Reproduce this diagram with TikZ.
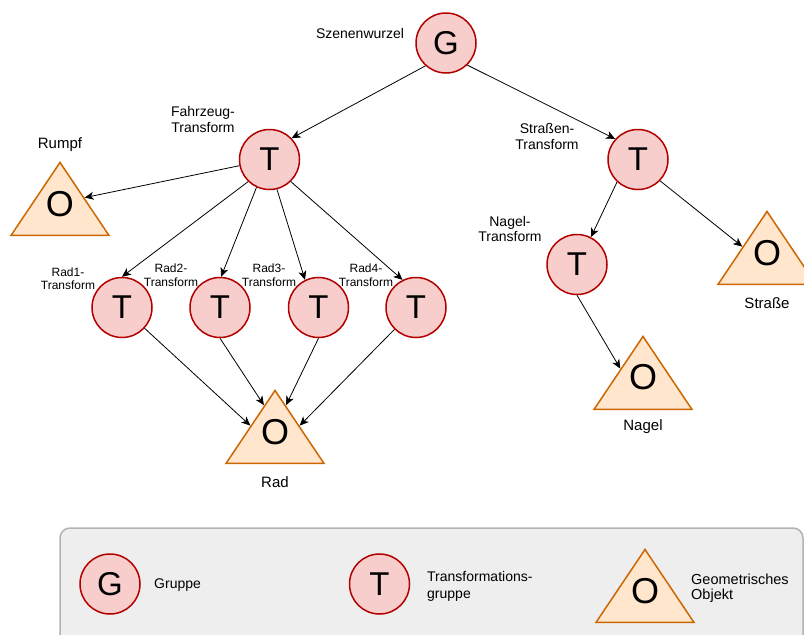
\documentclass[tikz,border=0pt]{standalone}
\usepackage{fontspec}
\setmainfont{Liberation Sans}
\usetikzlibrary{shapes.geometric,arrows.meta,calc}

\definecolor{grpfill}{HTML}{F8CECC}
\definecolor{grpline}{HTML}{B20000}
\definecolor{objfill}{HTML}{FFE6CC}
\definecolor{objline}{HTML}{CC6600}
\definecolor{legfill}{HTML}{EEEEEE}
\definecolor{legline}{HTML}{B3B3B3}

\tikzset{
  grp/.style={circle, draw=grpline, fill=grpfill, line width=1.5pt,
    minimum size=60pt, inner sep=0pt, font=\fontsize{33}{33}\selectfont},
  obj/.style={isosceles triangle, isosceles triangle stretches,
    shape border rotate=90, draw=objline, fill=objfill, line width=1.5pt,
    minimum width=98pt, minimum height=73pt, inner sep=0pt, anchor=apex},
  objletter/.style={font=\fontsize{36}{36}\selectfont, inner sep=0pt},
  lbl/.style={font=\fontsize{14}{15.5}\selectfont, align=center, inner sep=0pt},
  namelbl/.style={font=\fontsize{15}{16}\selectfont, inner sep=0pt},
  smalllbl/.style={font=\fontsize{12}{13.5}\selectfont, align=center, inner sep=0pt},
  leglbl/.style={font=\fontsize{14}{17}\selectfont, align=left, anchor=west, inner sep=0pt},
  edge/.style={line width=0.8pt, -{Stealth[length=9pt,width=8pt,inset=2.5pt]}},
}

\begin{document}
\begin{tikzpicture}[x=1pt,y=-1pt]
  \useasboundingbox (0,0) rectangle (804,635);
  \clip (0,0) rectangle (804,635);

  % group and transform nodes
  \node[grp] (root) at (446,43) {G};
  \node[grp] (car) at (269.5,159.5) {T};
  \node[grp] (road) at (638,159.5) {T};
  \node[grp] (nail) at (577,264.5) {T};
  \node[grp] (w1) at (122,307.5) {T};
  \node[grp] (w2) at (220,307.5) {T};
  \node[grp] (w3) at (318.5,307.5) {T};
  \node[grp] (w4) at (416,307.5) {T};

  % geometry objects
  \node[obj] (hull) at (60,160.5) {};
  \node[objletter] (hullO) at ($(hull.apex)+(0,44)$) {O};
  \node[obj] (wheel) at (275,388.5) {};
  \node[objletter] (wheelO) at ($(wheel.apex)+(0,44)$) {O};
  \node[obj] (nailobj) at (643,334.5) {};
  \node[objletter] (nailobjO) at ($(nailobj.apex)+(0,43)$) {O};
  \node[obj] (street) at (767,209.5) {};
  \node[objletter] (streetO) at ($(street.apex)+(0,44)$) {O};

  % labels
  \node[lbl] (lroot) at (360,33) {Szenenwurzel};
  \node[lbl] (lcar) at (203,119.5) {Fahrzeug-\\Transform};
  \node[lbl] (lroad) at (547,136.5) {Straßen-\\Transform};
  \node[lbl] (lnail) at (510,229) {Nagel-\\Transform};
  \node[namelbl] (lhull) at (60,145) {Rumpf};
  \node[namelbl] (lstreet) at (767,303) {Straße};
  \node[namelbl] (lnailobj) at (643,427) {Nagel};
  \node[namelbl] (lwheel) at (275,482) {Rad};
  \node[smalllbl] (lw1) at (68,278.5) {Rad1-\\Transform};
  \node[smalllbl] (lw2) at (171,275) {Rad2-\\Transform};
  \node[smalllbl] (lw3) at (269,275) {Rad3-\\Transform};
  \node[smalllbl] (lw4) at (366,275) {Rad4-\\Transform};

  % connectors
  \draw[edge] (root.-132) -- (car.44);
  \draw[edge] (root.-46) -- (road.138);
  \draw[edge] (car) -- ($(hull.apex)!0.49!(hull.right corner)$);
  \draw[edge] (car.-134) -- (w1.north);
  \draw[edge] (car.-115) -- (w2.88);
  \draw[edge] (car.-76) -- (w3.116);
  \draw[edge] (car.-46) -- (w4.116);
  \draw[edge] (w1) -- ($(wheel.apex)!0.49!(wheel.left corner)$);
  \draw[edge] (w2.south) -- ($(wheel.apex)!0.22!(wheel.left corner)$);
  \draw[edge] (w3.south) -- ($(wheel.apex)!0.22!(wheel.right corner)$);
  \draw[edge] (w4) -- ($(wheel.apex)!0.49!(wheel.right corner)$);
  \draw[edge] (road.-133) -- (nail.63);
  \draw[edge] (road.-44) -- ($(street.apex)!0.49!(street.left corner)$);
  \draw[edge] (nail.south) -- ($(nailobj.apex)!0.45!(nailobj.left corner)$);

  % legend
  \draw[legline, fill=legfill, line width=1.5pt, rounded corners=10pt] (60,528) rectangle (803,660);
  \node[grp] (legG) at (110,584) {G};
  \node[leglbl] (legGtxt) at (154,585) {Gruppe};
  \node[grp] (legT) at (379.5,584) {T};
  \node[leglbl] (legTtxt) at (427,586) {Transformations-\\gruppe};
  \node[obj] (legO) at (645,547.5) {};
  \node[objletter] (legOO) at ($(legO.apex)+(0,43.5)$) {O};
  \node[leglbl, font=\fontsize{14.5}{14.5}\selectfont] (legOtxt) at (691,588) {Geometrisches\\Objekt};
\end{tikzpicture}
\end{document}
